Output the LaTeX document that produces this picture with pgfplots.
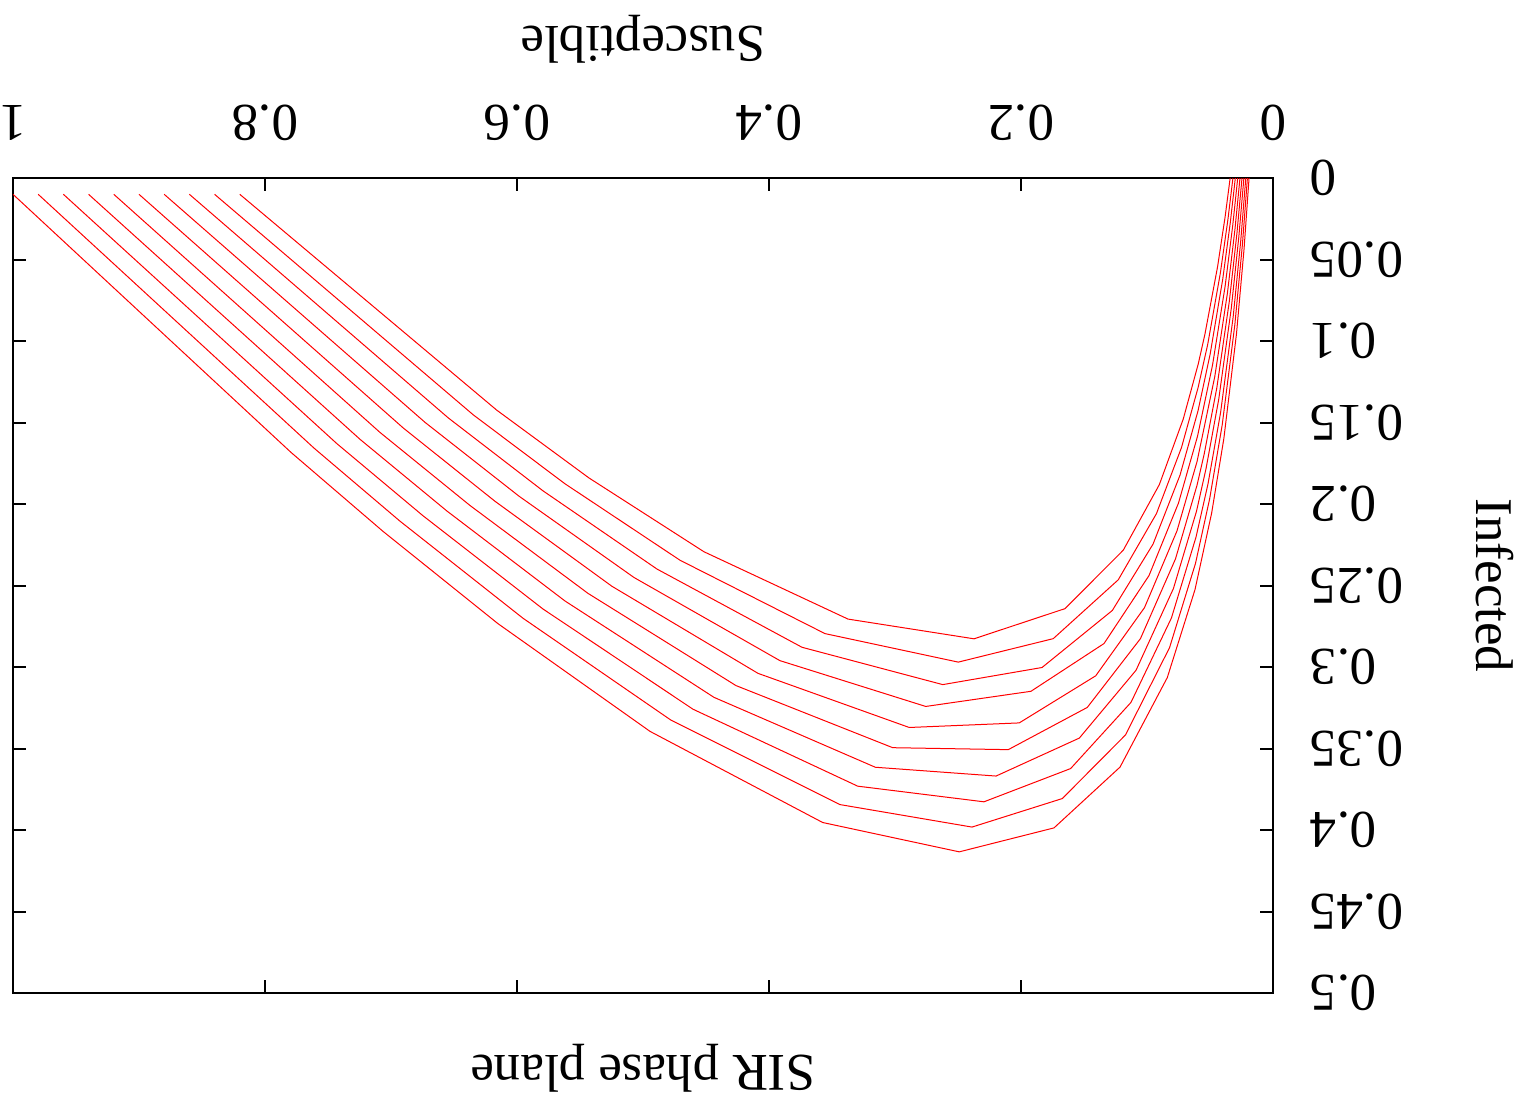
\documentclass[border=0pt]{standalone}
\usepackage{fontspec}
\setmainfont{Liberation Serif}
\usepackage{pgfplots}
\pgfplotsset{compat=1.18}
\begin{document}
\begin{tikzpicture}[font=\fontsize{26.5}{31}\selectfont]
\begin{axis}[
  scale only axis, width=630pt, height=407.5pt,
  xmin=0, xmax=1, ymin=0, ymax=0.5,
  x dir=reverse, y dir=reverse,
  xtick={0,0.2,0.4,0.6,0.8,1},
  xticklabels={0,0.2,0.4,0.6,0.8,1},
  ytick={0,0.05,0.1,0.15,0.2,0.25,0.3,0.35,0.4,0.45,0.5},
  yticklabels={0,0.05,0.1,0.15,0.2,0.25,0.3,0.35,0.4,0.45,0.5},
  xticklabel pos=right, yticklabel pos=right,
  tick align=inside, major tick length=6.5pt,
  every tick/.style={black, line width=1pt},
  axis line style={line width=1pt},
  xticklabel style={inner sep=0pt, anchor=center, yshift=27.75pt, rotate=180},
  yticklabel style={inner sep=0pt, anchor=east, xshift=18.5pt, rotate=180},
  xlabel={Susceptible}, ylabel={Infected}, title={SIR phase plane},
  every axis x label/.style={at={(axis description cs:0.5,1.17)}, anchor=center, rotate=180},
  every axis y label/.style={at={(axis description cs:1.176,0.5)}, anchor=center, rotate=270},
  every axis title/.style={at={(axis description cs:0.5,-0.092)}, anchor=center, rotate=180},
]
\addplot[red, line width=0.5pt] coordinates {(1.0,0.01) (0.7794,0.1683) (0.7063,0.2168) (0.6151,0.2734) (0.4944,0.3395) (0.3574,0.3954) (0.2490,0.4134) (0.1738,0.3987) (0.1214,0.3614) (0.0839,0.3065) (0.0619,0.2525) (0.0487,0.2056) (0.039,0.1598) (0.029,0.0957) (0.023,0.0438) (0.019,0)};
\addplot[red, line width=0.5pt] coordinates {(0.98,0.01) (0.7611,0.1657) (0.6929,0.2105) (0.5952,0.2701) (0.4778,0.3326) (0.3437,0.3844) (0.2389,0.3982) (0.1672,0.3807) (0.1171,0.3417) (0.0821,0.2881) (0.0615,0.2364) (0.0503,0.1969) (0.0403,0.1514) (0.0303,0.0901) (0.0243,0.0410) (0.0203,0)};
\addplot[red, line width=0.5pt] coordinates {(0.96,0.01) (0.7429,0.1630) (0.6746,0.2072) (0.5794,0.2644) (0.4603,0.3259) (0.3296,0.3731) (0.2294,0.3827) (0.1606,0.3623) (0.1127,0.3217) (0.0806,0.2699) (0.0611,0.2203) (0.0516,0.1877) (0.0416,0.1439) (0.0316,0.0851) (0.0256,0.0385) (0.0216,0)};
\addplot[red, line width=0.5pt] coordinates {(0.94,0.01) (0.7246,0.1603) (0.6556,0.2043) (0.5619,0.2595) (0.4437,0.3186) (0.3156,0.3615) (0.2198,0.3669) (0.1537,0.3436) (0.1087,0.3020) (0.0790,0.2518) (0.0607,0.2044) (0.0531,0.1781) (0.0431,0.1359) (0.0331,0.0799) (0.0271,0.0359) (0.0231,0)};
\addplot[red, line width=0.5pt] coordinates {(0.92,0.01) (0.7087,0.1561) (0.6373,0.2009) (0.5437,0.2548) (0.4262,0.3114) (0.3018,0.3495) (0.2101,0.3507) (0.1474,0.3248) (0.1052,0.2826) (0.0774,0.2337) (0.0603,0.1885) (0.0546,0.1693) (0.0446,0.1288) (0.0346,0.0753) (0.0286,0.0337) (0.0246,0)};
\addplot[red, line width=0.5pt] coordinates {(0.90,0.01) (0.6902,0.1534) (0.6175,0.1983) (0.5246,0.2505) (0.4087,0.3039) (0.2887,0.3371) (0.2014,0.3343) (0.1407,0.3054) (0.1020,0.2636) (0.0762,0.2165) (0.0603,0.1740) (0.0462,0.1218) (0.0362,0.0708) (0.0302,0.0315) (0.0262,0)};
\addplot[red, line width=0.5pt] coordinates {(0.88,0.01) (0.6730,0.1499) (0.5984,0.1952) (0.5071,0.2451) (0.3913,0.2961) (0.2756,0.3242) (0.1921,0.3149) (0.1341,0.2856) (0.0984,0.2439) (0.0750,0.1994) (0.0599,0.1584) (0.0480,0.1148) (0.0380,0.0664) (0.0320,0.0294) (0.0280,0)};
\addplot[red, line width=0.5pt] coordinates {(0.86,0.01) (0.6545,0.1472) (0.5794,0.1919) (0.4889,0.2399) (0.3738,0.2879) (0.2621,0.3108) (0.1833,0.3003) (0.1275,0.2653) (0.0952,0.2246) (0.0738,0.1823) (0.0595,0.1428) (0.0499,0.1081) (0.0399,0.0621) (0.0339,0.0274) (0.0299,0)};
\addplot[red, line width=0.5pt] coordinates {(0.84,0.01) (0.6347,0.1453) (0.5619,0.1876) (0.4706,0.2345) (0.3556,0.2795) (0.2498,0.2970) (0.1744,0.2826) (0.1228,0.2465) (0.0925,0.2059) (0.0726,0.1653) (0.0595,0.1287) (0.0518,0.1020) (0.0418,0.0584) (0.0358,0.0256) (0.0318,0)};
\addplot[red, line width=0.5pt] coordinates {(0.82,0.01) (0.6161,0.1424) (0.5429,0.1840) (0.4516,0.2293) (0.3373,0.2706) (0.2373,0.2827) (0.1651,0.2642) (0.1188,0.2283) (0.0902,0.1881) (0.0712,0.1478) (0.0593,0.1140) (0.0540,0.0957) (0.0440,0.0545) (0.0380,0.0238) (0.0340,0)};
\end{axis}
\pgfresetboundingbox
\path ([shift={(-6.5pt,-53.5pt)}]current axis.south west) rectangle ([shift={(127.5pt,89pt)}]current axis.north east);
\end{tikzpicture}
\end{document}
